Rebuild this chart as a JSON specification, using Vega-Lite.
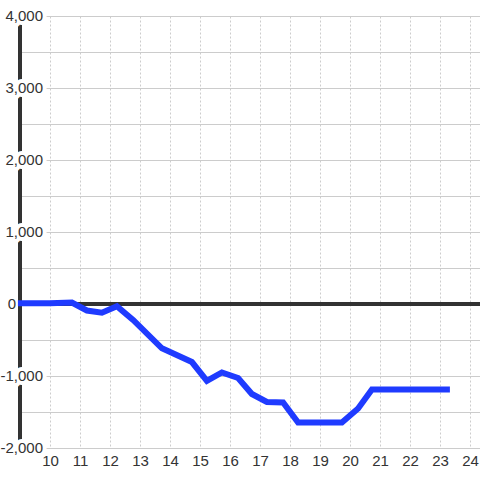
{
  "$schema": "https://vega.github.io/schema/vega-lite/v6.json",
  "width": 462,
  "height": 432,
  "autosize": {"type": "none"},
  "padding": {"left": 18, "top": 16, "right": 0, "bottom": 32},
  "background": "white",
  "config": {
    "view": {"stroke": null},
    "font": "Liberation Sans",
    "axisX": {"grid": true, "gridColor": "#cccccc", "gridDash": [2, 2], "gridWidth": 1, "ticks": false, "domain": false, "labelFontSize": 15, "labelColor": "#333333", "labelFont": "Liberation Sans", "labelPadding": 5, "labelOverlap": false, "labelFlush": false, "title": null},
    "axisY": {"grid": true, "gridColor": "#cccccc", "gridWidth": 1, "labels": false, "ticks": false, "domain": false, "title": null}
  },
  "datasets": {
    "series": [
      {"t": 8.93, "v": 10},
      {"t": 10.0, "v": 10},
      {"t": 10.73, "v": 20},
      {"t": 11.23, "v": -90},
      {"t": 11.73, "v": -120},
      {"t": 12.23, "v": -30},
      {"t": 12.77, "v": -222},
      {"t": 13.73, "v": -615},
      {"t": 14.73, "v": -806},
      {"t": 15.23, "v": -1069},
      {"t": 15.73, "v": -951},
      {"t": 16.27, "v": -1028},
      {"t": 16.73, "v": -1250},
      {"t": 17.23, "v": -1361},
      {"t": 17.77, "v": -1368},
      {"t": 18.27, "v": -1646},
      {"t": 19.73, "v": -1646},
      {"t": 20.27, "v": -1451},
      {"t": 20.73, "v": -1187},
      {"t": 23.33, "v": -1187}
    ],
    "yticks": [
      {"v": 4000, "label": "4,000"},
      {"v": 3000, "label": "3,000"},
      {"v": 2000, "label": "2,000"},
      {"v": 1000, "label": "1,000"},
      {"v": 0, "label": "0"},
      {"v": -1000, "label": "-1,000"},
      {"v": -2000, "label": "-2,000"}
    ]
  },
  "layer": [
    {
      "data": {"name": "series"},
      "mark": {"type": "rule", "color": "#333333", "strokeWidth": 3},
      "encoding": {
        "y": {"datum": 0, "type": "quantitative", "scale": {"domain": [-2000, 4000], "nice": false, "zero": false},
          "axis": {"values": [-2000, -1500, -1000, -500, 0, 500, 1000, 1500, 2000, 2500, 3000, 3500, 4000]}}
      }
    },
    {
      "data": {"name": "series"},
      "mark": {"type": "rule", "color": "#333333", "strokeWidth": 3},
      "encoding": {
        "x": {"datum": 9, "type": "quantitative", "scale": {"domain": [8.9333, 24.3333], "nice": false, "zero": false},
          "axis": {"values": [10, 11, 12, 13, 14, 15, 16, 17, 18, 19, 20, 21, 22, 23, 24], "labelOverlap": false}}
      }
    },
    {
      "data": {"name": "yticks"},
      "transform": [{"filter": "datum.v !== 0"}],
      "mark": {"type": "text", "align": "right", "baseline": "middle", "fontSize": 15, "fill": "white", "stroke": "white", "strokeWidth": 8, "strokeJoin": "round"},
      "encoding": {
        "x": {"datum": 9.7667, "type": "quantitative", "scale": {"domain": [8.9333, 24.3333], "nice": false, "zero": false},
          "axis": {"values": [10, 11, 12, 13, 14, 15, 16, 17, 18, 19, 20, 21, 22, 23, 24], "labelOverlap": false}},
        "y": {"field": "v", "type": "quantitative", "scale": {"domain": [-2000, 4000], "nice": false, "zero": false},
          "axis": {"values": [-2000, -1500, -1000, -500, 0, 500, 1000, 1500, 2000, 2500, 3000, 3500, 4000]}},
        "text": {"field": "label"}
      }
    },
    {
      "data": {"name": "yticks"},
      "transform": [{"filter": "datum.v !== 0"}],
      "mark": {"type": "text", "align": "right", "baseline": "middle", "fontSize": 15, "color": "#333333"},
      "encoding": {
        "x": {"datum": 9.7667, "type": "quantitative", "scale": {"domain": [8.9333, 24.3333], "nice": false, "zero": false},
          "axis": {"values": [10, 11, 12, 13, 14, 15, 16, 17, 18, 19, 20, 21, 22, 23, 24], "labelOverlap": false}},
        "y": {"field": "v", "type": "quantitative", "scale": {"domain": [-2000, 4000], "nice": false, "zero": false},
          "axis": {"values": [-2000, -1500, -1000, -500, 0, 500, 1000, 1500, 2000, 2500, 3000, 3500, 4000]}},
        "text": {"field": "label"}
      }
    },
    {
      "data": {"name": "yticks"},
      "transform": [{"filter": "datum.v === 0"}],
      "mark": {"type": "text", "align": "right", "baseline": "middle", "fontSize": 15, "color": "#333333"},
      "encoding": {
        "x": {"datum": 8.8667, "type": "quantitative", "scale": {"domain": [8.9333, 24.3333], "nice": false, "zero": false},
          "axis": {"values": [10, 11, 12, 13, 14, 15, 16, 17, 18, 19, 20, 21, 22, 23, 24], "labelOverlap": false}},
        "y": {"field": "v", "type": "quantitative", "scale": {"domain": [-2000, 4000], "nice": false, "zero": false},
          "axis": {"values": [-2000, -1500, -1000, -500, 0, 500, 1000, 1500, 2000, 2500, 3000, 3500, 4000]}},
        "text": {"field": "label"}
      }
    },
    {
      "data": {"name": "series"},
      "mark": {"type": "line", "color": "#1f3bff", "strokeWidth": 6, "strokeCap": "butt", "strokeJoin": "miter"},
      "encoding": {
        "x": {"field": "t", "type": "quantitative", "scale": {"domain": [8.9333, 24.3333], "nice": false, "zero": false},
          "axis": {"values": [10, 11, 12, 13, 14, 15, 16, 17, 18, 19, 20, 21, 22, 23, 24], "labelOverlap": false}},
        "y": {"field": "v", "type": "quantitative", "scale": {"domain": [-2000, 4000], "nice": false, "zero": false},
          "axis": {"values": [-2000, -1500, -1000, -500, 0, 500, 1000, 1500, 2000, 2500, 3000, 3500, 4000]}}
      }
    }
  ]
}
